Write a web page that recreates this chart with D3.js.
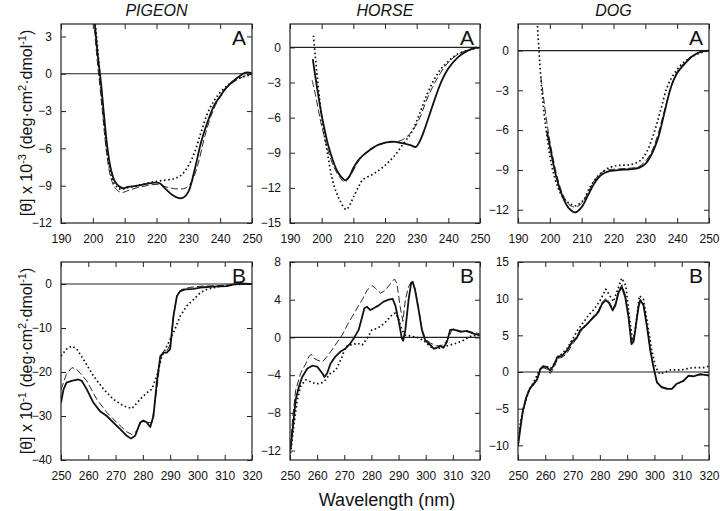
<!DOCTYPE html>
<html><head><meta charset="utf-8">
<script src="https://cdn.jsdelivr.net/npm/d3@7"></script>
<style>body{margin:0;background:#fff}svg{display:block}text{font-family:"Liberation Sans",Arial,sans-serif;fill:#111}</style>
</head><body><svg id="c" width="720" height="511"></svg>
<script>
// ---------- data ----------
const titles = ["PIGEON", "HORSE", "DOG"];
const panelLetters = ["A", "B"];
const farUVTicks = [190, 200, 210, 220, 230, 240, 250];
const nearUVTicks = [250, 260, 270, 280, 290, 300, 310, 320];
const farUVDomain = [190, 250];
const nearUVDomain = [250, 320];

const pigeonA_yDomain = [-12, 4], pigeonA_yTicks = [3, 0, -3, -6, -9, -12];
const horseA_yDomain = [-15, 2], horseA_yTicks = [0, -3, -6, -9, -12, -15];
const dogA_yDomain = [-13, 2], dogA_yTicks = [0, -3, -6, -9, -12];
const pigeonB_yDomain = [-40, 5], pigeonB_yTicks = [0, -10, -20, -30, -40];
const horseB_yDomain = [-13, 8], horseB_yTicks = [8, 4, 0, -4, -8, -12];
const dogB_yDomain = [-12, 15], dogB_yTicks = [15, 10, 5, 0, -5, -10];

// [wavelength nm, ellipticity]
const pigeonA_solid = [[200.6,4.1],[201.5,1.6],[202.5,-0.6],[203.4,-3],[204.5,-5.8],[205.6,-7.6],[206.8,-8.6],[208,-9.0],[209.5,-9.2],[211,-9.1],[214,-9.0],[217,-8.85],[219.5,-8.75],[221,-8.8],[223,-9.3],[225,-9.75],[227,-10.0],[228.5,-9.95],[230,-9.5],[232,-7.7],[234,-5.5],[236,-3.9],[238,-2.6],[240,-1.8],[242,-1.1],[245,-0.4],[248,0.1],[250,0.05]];
const pigeonA_dashed = [[200.5,3.6],[201.4,1.0],[202.3,-1.2],[203.2,-3.6],[204.3,-6.3],[205.5,-8.2],[207,-9.2],[209,-9.55],[211,-9.4],[214,-9.15],[217,-9.0],[220,-8.9],[223,-9.1],[226,-9.25],[229,-9.2],[231,-8.7],[233,-7.3],[235,-5.2],[237,-3.5],[239,-2.3],[241,-1.5],[243,-0.9],[246,-0.4],[248,-0.15],[250,-0.05]];
const pigeonA_dotted = [[200.8,4.0],[201.7,1.5],[202.5,-1.0],[203.5,-3.8],[204.6,-6.5],[206,-8.4],[207.5,-9.1],[209,-9.3],[211,-9.15],[214,-9.0],[217,-8.8],[220,-8.65],[223,-8.55],[226,-8.4],[228,-8.1],[230,-7.4],[232,-6.3],[234,-4.7],[236,-3.2],[238,-2.2],[240,-1.5],[243,-0.8],[246,-0.35],[250,-0.05]];

const horseA_solid = [[197.2,-1.0],[198,-2.5],[199,-4.2],[200,-5.8],[201,-7.1],[202,-8.3],[203,-9.2],[204,-10.0],[205,-10.6],[206,-11.0],[207.5,-11.35],[209,-10.9],[210,-10.3],[212,-9.5],[215,-8.8],[218,-8.3],[222,-8.05],[225,-8.15],[228,-8.35],[229.8,-8.5],[231,-8.0],[232,-7.36],[234,-5.8],[236,-4.2],[238,-2.8],[240,-1.8],[243,-0.85],[246,-0.3],[249,0]];
const horseA_dashed = [[197,-2.8],[198,-4.0],[199,-5.4],[200,-6.7],[202,-8.8],[204,-10.3],[206,-11.2],[207.2,-11.5],[209,-11.0],[211,-10.0],[213,-9.2],[216,-8.6],[219,-8.25],[222,-8.1],[225,-7.95],[227,-7.6],[229,-7.0],[231,-6.0],[233,-4.6],[235,-3.4],[237,-2.4],[239,-1.6],[241,-1.0],[244,-0.45],[247,-0.15],[250,0]];
const horseA_dotted = [[197.4,1.0],[198,-0.8],[198.6,-2.5],[199.5,-4.8],[200.3,-6.5],[201.1,-7.9],[202,-9.3],[203.2,-11.1],[204.5,-12.3],[205.8,-13.1],[207.7,-13.85],[209,-13.4],[210,-12.8],[211.5,-12.0],[213,-11.3],[216.4,-10.8],[219.5,-10.2],[222.7,-9.35],[225.9,-8.2],[228.5,-7.2],[231,-5.6],[233.3,-4.0],[235.4,-2.8],[237.5,-1.9],[239.6,-1.3],[242.7,-0.6],[247,-0.2],[250,0]];

const dogA_solid = [[199.1,-6.1],[200,-7.2],[202,-9.5],[204,-11.0],[206,-11.9],[208,-12.2],[210,-11.8],[212,-10.9],[214,-10.0],[216,-9.4],[218,-9.15],[220,-9.05],[222,-9.0],[225,-8.95],[228,-8.85],[230,-8.55],[232,-7.8],[234,-6.6],[235,-5.7],[236,-4.7],[238,-2.8],[240,-1.7],[242,-1.1],[245,-0.4],[248,-0.05],[250,0]];
const dogA_dashed = [[197.2,-2.0],[198,-3.5],[199,-5.3],[200,-6.8],[202,-9.2],[204,-10.8],[206,-11.6],[208,-11.8],[210,-11.5],[212,-10.7],[214,-9.8],[216,-9.25],[218,-9.0],[220,-8.95],[223,-8.9],[226,-8.85],[228,-8.75],[230,-8.35],[232,-7.6],[234,-6.3],[236,-4.5],[238,-2.8],[240,-1.6],[242,-1.0],[245,-0.35],[248,-0.05],[250,0]];
const dogA_dotted = [[196.1,1.85],[196.6,0],[197.4,-2.8],[198.2,-4.7],[199,-6.3],[200,-7.9],[201,-9.1],[202.5,-10.3],[204.2,-11.1],[206,-11.5],[208,-11.7],[210.5,-11.3],[212.6,-10.3],[215.8,-9.3],[219,-8.8],[222,-8.65],[225.3,-8.6],[228.4,-8.3],[230.5,-7.6],[232.6,-6.3],[234.7,-4.6],[236.8,-2.8],[238.9,-1.8],[242,-0.9],[246,-0.3],[250,0]];

const pigeonB_solid = [[250,-27],[250.9,-24],[252,-22.4],[253.9,-22],[256.4,-21.7],[257.6,-22],[259.4,-23.9],[261.9,-27],[264.3,-28.9],[266.8,-30],[269.2,-31.5],[271.7,-33],[274.1,-34.5],[275.6,-35.1],[277.2,-34.5],[279,-31.5],[280.2,-31],[281.5,-31.5],[282.7,-32.5],[283.9,-30],[285.1,-22.4],[286.4,-16.4],[287.6,-15.6],[288.8,-15.6],[290,-14.8],[291.2,-7.3],[292.5,-2.7],[293.7,-1.6],[295.5,-1.2],[298.6,-1.1],[301,-0.8],[305.9,-0.6],[310.8,-0.5],[313.3,-0.1],[317,0.1],[319.4,0]];
const pigeonB_dashed = [[250,-24],[252,-20.5],[254,-19],[255.8,-19.4],[259.4,-22],[263.1,-26.2],[266.8,-29.2],[270.5,-31.5],[274.1,-33.6],[276,-34.2],[277.8,-33.4],[279.6,-31.1],[281.5,-31.5],[283.3,-31.5],[285.1,-24],[286.4,-17.1],[287.6,-15.2],[289,-15],[290.2,-13.5],[291.4,-6.5],[292.6,-2.4],[294,-1.3],[297,-0.8],[301,-0.5],[306,-0.4],[311,-0.3],[315,0],[320,0.1]];
const pigeonB_dotted = [[250,-16.4],[252,-14.8],[253.9,-14.1],[255.8,-14.8],[258.2,-17.1],[261.9,-20.9],[265.6,-23.9],[269.2,-26.2],[272.9,-27.7],[276,-28.3],[279,-26.2],[281.5,-24.7],[283.3,-23.9],[285.1,-20.9],[287,-16.4],[288.8,-14.1],[291.2,-11.1],[293.7,-7.3],[296.1,-5],[298.6,-3.5],[301,-2],[303.5,-1.2],[308.4,-0.5],[313.3,-0.1],[320,0]];

const horseB_solid = [[250.2,-11.9],[251.2,-9.1],[252.1,-6.6],[253.3,-5.2],[254.5,-4.2],[256.4,-3.3],[258.2,-3.0],[260,-3.1],[261.9,-3.8],[262.7,-4.2],[263.7,-3.8],[264.9,-2.8],[266.8,-2.0],[268.6,-1.5],[270.4,-1.2],[272.3,-0.6],[273.5,-0.1],[275.3,0.8],[276.6,2.2],[277.4,3.1],[278.4,3.25],[279.6,2.9],[280.8,3.1],[282.7,3.4],[284.5,3.8],[286.4,4.0],[287.8,4.1],[288.8,3.4],[290,1.8],[291.2,-0.1],[291.7,-0.35],[292.5,0.8],[293.7,4.0],[294.6,5.7],[295.2,5.9],[296.1,5.0],[297.4,2.9],[298.6,0.8],[299.8,-0.3],[301.7,-0.8],[303,-1.2],[304.1,-1.1],[305.3,-0.9],[306.5,-1.1],[307.8,-0.5],[309,0.8],[310.2,0.85],[312.7,0.6],[315.1,0.7],[317.6,0.4],[319.8,0.25]];
const horseB_dashed = [[250.2,-11.5],[251.1,-8.2],[252.1,-5.6],[253.9,-3.8],[255.8,-2.8],[257,-2.0],[257.9,-1.8],[258.8,-2.2],[260,-2.4],[261.9,-2.6],[263.7,-2.0],[265.5,-1.3],[267.4,-0.5],[269.2,0.25],[271.1,1.3],[272.9,2.2],[274.7,3.1],[276.6,4.0],[278.4,5.0],[280.2,5.5],[281.5,5.2],[283.3,4.7],[285.1,5.0],[287,5.7],[288.5,6.2],[289.4,5.7],[290.6,3.25],[291.6,1.7],[292.5,4.0],[293.7,5.4],[294.9,6.0],[296.1,5.2],[297.4,3.1],[298.6,0.95],[299.8,-0.1],[301.7,-0.6],[304.1,-0.9],[306.5,-0.8],[308.4,-0.1],[309.6,0.8],[311.5,0.8],[313.9,0.6],[316.3,0.6],[319.8,0.4]];
const horseB_dotted = [[250.2,-12.3],[251.5,-9.1],[252.7,-6.6],[253.9,-5.2],[255.8,-4.5],[257.6,-4.7],[259.4,-4.9],[261.3,-4.9],[263.1,-4.5],[264.9,-3.8],[266.8,-3.5],[268,-2.8],[269.2,-2.05],[270.4,-1.0],[271.7,-0.8],[272.9,-0.8],[274.7,-0.6],[276.6,-0.8],[278.4,-0.1],[280.2,0.8],[282.1,0.95],[283.9,1.3],[285.8,1.8],[287.6,2.4],[288.8,2.6],[290,2.0],[291.2,0.8],[292.5,0.25],[294.3,0.15],[296.8,0],[299.2,-0.3],[301.7,-1.0],[304.1,-1.2],[306.5,-1.0],[309,-0.8],[311.5,-0.6],[313.9,-0.3],[316.3,0.1],[318.8,0.25],[320,0.2]];

const dogB_solid = [[250,-10.1],[250.9,-7.6],[251.8,-5.3],[253,-3.5],[254.3,-2.3],[255.7,-1.6],[257,-1.0],[258.2,0.4],[259.2,0.8],[260.6,0.65],[261.8,0.2],[263.1,0.9],[264.5,2.1],[266.1,2.2],[267.9,2.9],[269.8,4.1],[271.6,4.7],[272.8,5.7],[274.7,6.3],[276.5,7.0],[278.3,7.7],[279.5,8.2],[280.8,9.3],[282.2,9.8],[283.4,9.4],[284.7,8.4],[285.7,9.1],[286.9,10.9],[288.1,11.6],[289.3,10.2],[290.5,7.5],[291.6,3.8],[292.4,4.2],[293.3,6.6],[294.2,8.9],[294.8,9.8],[296,9.1],[297.3,6.1],[298.5,2.9],[299.7,0.6],[300.9,-1.4],[302.7,-2.1],[304.6,-2.3],[306.4,-2.3],[308.2,-1.6],[310.7,-1.2],[312.5,-0.5],[314.3,-0.6],[316.8,-0.3],[320,-0.5]];
const dogB_dashed = [[250,-9.8],[250.9,-7.3],[251.8,-5.0],[253,-3.4],[254.3,-2.4],[255.7,-1.8],[257,-1.1],[258.2,0.2],[259.2,0.6],[260.6,0.4],[261.8,-0.2],[263.1,0.5],[264.5,1.8],[266.1,2.0],[267.9,2.5],[269.8,3.7],[271.6,4.6],[272.8,5.4],[274.7,6.2],[276.5,7.1],[278.3,7.9],[279.5,8.4],[280.8,9.5],[282.2,10.0],[283.4,9.6],[284.7,8.6],[285.7,9.3],[286.9,11.1],[288.1,11.9],[289.3,10.5],[290.5,7.7],[291.6,3.9],[292.4,4.3],[293.3,6.8],[294.2,9.1],[294.8,9.9],[296,9.2],[297.3,6.2],[298.5,3.0],[299.7,0.5],[300.9,-1.3],[302.7,-2.0],[304.6,-2.2],[306.4,-2.3],[308.2,-1.7],[310.7,-1.1],[312.5,-0.6],[314.3,-0.5],[316.8,-0.4],[320,-0.4]];
const dogB_dotted = [[250,-9.5],[251,-6.6],[252,-5.0],[254,-2.5],[256,-1.2],[258,0.3],[260,0.8],[262,0.5],[264,1.5],[266,2.5],[268,3.2],[270,4.5],[272,5.8],[274,6.8],[276,7.8],[278,8.6],[280,9.7],[282.2,11.3],[283.5,10.5],[285,9.6],[286.5,11.2],[288,12.8],[289.5,11.8],[291,7.0],[292,4.2],[293,5.8],[294.5,10.4],[296,9.9],[297.5,6.5],[299,3.0],[300.5,0.6],[302,-0.3],[304,0.0],[306,0.3],[310,0.3],[314,0.6],[318,0.6],[320,0.8]];

// ---------- drawing ----------
const svg = d3.select("#c");
const colX = [[61, 252], [290, 480], [518, 709]];
const rowY = [[24, 223], [262, 460]];

const panels = [
  {r:0,c:0,dom:farUVDomain,xt:farUVTicks,yd:pigeonA_yDomain,yt:pigeonA_yTicks,s:[pigeonA_solid,pigeonA_dashed,pigeonA_dotted]},
  {r:0,c:1,dom:farUVDomain,xt:farUVTicks,yd:horseA_yDomain,yt:horseA_yTicks,s:[horseA_solid,horseA_dashed,horseA_dotted]},
  {r:0,c:2,dom:farUVDomain,xt:farUVTicks,yd:dogA_yDomain,yt:dogA_yTicks,s:[dogA_solid,dogA_dashed,dogA_dotted]},
  {r:1,c:0,dom:nearUVDomain,xt:nearUVTicks,yd:pigeonB_yDomain,yt:pigeonB_yTicks,s:[pigeonB_solid,pigeonB_dashed,pigeonB_dotted]},
  {r:1,c:1,dom:nearUVDomain,xt:nearUVTicks,yd:horseB_yDomain,yt:horseB_yTicks,s:[horseB_solid,horseB_dashed,horseB_dotted]},
  {r:1,c:2,dom:nearUVDomain,xt:nearUVTicks,yd:dogB_yDomain,yt:dogB_yTicks,s:[dogB_solid,dogB_dashed,dogB_dotted]}
];
const styles = [
  {w:1.8, dash:null},
  {w:0.9, dash:"7,3"},
  {w:1.7, dash:"1.6,2.6"}
];

panels.forEach((p, i) => {
  const [x0, x1] = colX[p.c], [y0, y1] = rowY[p.r];
  const x = d3.scaleLinear().domain(p.dom).range([x0, x1]);
  const y = d3.scaleLinear().domain(p.yd).range([y1, y0]);
  const g = svg.append("g");
  const cid = "clip" + i;
  svg.append("clipPath").attr("id", cid).append("rect")
    .attr("x", x0).attr("y", y0).attr("width", x1 - x0).attr("height", y1 - y0);

  // axes with inward ticks on all 4 sides
  const tl = 5;
  g.append("g").attr("transform", `translate(0,${y1})`)
    .call(d3.axisBottom(x).tickValues(p.xt).tickSize(-tl).tickPadding(6 + tl).tickFormat(d3.format("d")))
    .call(a => { a.select(".domain").remove(); a.selectAll("text").attr("font-size", 12).attr("fill", "#111").attr("font-family", "Liberation Sans, Arial, sans-serif"); a.selectAll("line").attr("stroke", "#222"); });
  g.append("g").attr("transform", `translate(0,${y0})`)
    .call(d3.axisTop(x).tickValues(p.xt).tickSize(-tl).tickFormat(""))
    .call(a => { a.select(".domain").remove(); a.selectAll("line").attr("stroke", "#222"); });
  g.append("g").attr("transform", `translate(${x0},0)`)
    .call(d3.axisLeft(y).tickValues(p.yt).tickSize(-tl).tickPadding(4 + tl).tickFormat(d3.format("d")))
    .call(a => { a.select(".domain").remove(); a.selectAll("text").attr("font-size", 12).attr("fill", "#111").attr("font-family", "Liberation Sans, Arial, sans-serif"); a.selectAll("line").attr("stroke", "#222"); });
  g.append("g").attr("transform", `translate(${x1},0)`)
    .call(d3.axisRight(y).tickValues(p.yt).tickSize(-tl).tickFormat(""))
    .call(a => { a.select(".domain").remove(); a.selectAll("line").attr("stroke", "#222"); });

  // zero line
  g.append("line").attr("x1", x0).attr("x2", x1).attr("y1", y(0)).attr("y2", y(0))
    .attr("stroke", "#222").attr("stroke-width", 1.2);

  // curves
  const line = d3.line().x(d => x(d[0])).y(d => y(d[1]))
    .curve(p.r === 0 ? d3.curveCatmullRom.alpha(0.5) : d3.curveLinear);
  const cg = g.append("g").attr("clip-path", `url(#${cid})`);
  [1, 2, 0].forEach(k => {
    const st = styles[k];
    const path = cg.append("path").datum(p.s[k]).attr("d", line)
      .attr("fill", "none").attr("stroke", "#111").attr("stroke-width", st.w)
      .attr("stroke-linejoin", "round");
    if (st.dash) path.attr("stroke-dasharray", st.dash);
  });

  // frame
  g.append("rect").attr("x", x0).attr("y", y0).attr("width", x1 - x0).attr("height", y1 - y0)
    .attr("fill", "none").attr("stroke", "#222").attr("stroke-width", 1.2);

  // panel letter
  g.append("text").attr("x", x1 - 6).attr("y", y0 + 21).attr("text-anchor", "end")
    .attr("font-size", 21).text(panelLetters[p.r]);
});

// column titles
titles.forEach((t, c) => {
  svg.append("text").attr("x", (colX[c][0] + colX[c][1]) / 2).attr("y", 16)
    .attr("text-anchor", "middle").attr("font-size", 16).attr("font-style", "italic").text(t);
});

// y labels
function yLabel(cy, exp) {
  const t = svg.append("text").attr("transform", `translate(32,${cy}) rotate(-90)`)
    .attr("text-anchor", "middle").attr("font-size", 16);
  t.append("tspan").text("[θ] x 10");
  t.append("tspan").attr("dy", -6).attr("font-size", 11).text(exp);
  t.append("tspan").attr("dy", 6).text(" (deg·cm");
  t.append("tspan").attr("dy", -6).attr("font-size", 11).text("2");
  t.append("tspan").attr("dy", 6).text("·dmol");
  t.append("tspan").attr("dy", -6).attr("font-size", 11).text("-1");
  t.append("tspan").attr("dy", 6).text(")");
}
yLabel(123, "-3");
yLabel(361, "-1");

svg.append("text").attr("x", 387).attr("y", 506).attr("text-anchor", "middle")
  .attr("font-size", 18).text("Wavelength (nm)");
</script></body></html>
